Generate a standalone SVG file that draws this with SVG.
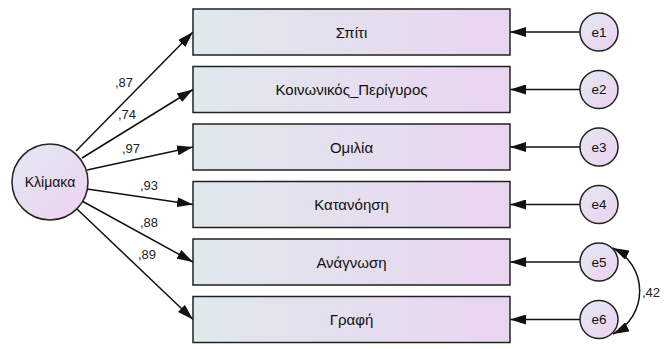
<svg xmlns="http://www.w3.org/2000/svg" width="668" height="349" viewBox="0 0 668 349">
  <defs>
    <linearGradient id="boxFill" x1="0" y1="0" x2="1" y2="0">
      <stop offset="0" stop-color="#dfe9ec"/>
      <stop offset="1" stop-color="#ead4f1"/>
    </linearGradient>
    <linearGradient id="circFill" x1="0.15" y1="0.1" x2="0.85" y2="0.9">
      <stop offset="0" stop-color="#e3e6f2"/>
      <stop offset="1" stop-color="#edd3f1"/>
    </linearGradient>
    <marker id="head" viewBox="0 0 16 10" refX="16" refY="5" markerWidth="16" markerHeight="10" markerUnits="userSpaceOnUse" orient="auto-start-reverse">
      <path d="M0,0 L16,5 L0,10 z" fill="#111"/>
    </marker>
  </defs>
  <style>
    .box { fill: url(#boxFill); stroke: #222; stroke-width: 1.5; }
    .circ { fill: url(#circFill); stroke: #222; stroke-width: 1.5; }
    .lbl { font-family: "Liberation Sans", Arial, sans-serif; font-size: 15px; fill: #111; text-anchor: middle; dominant-baseline: central; }
    .big { font-size: 14px; }
    .err { font-size: 13.5px; }
    .coef { font-family: "Liberation Sans", Arial, sans-serif; font-size: 13px; fill: #222; }
    .link { fill: none; stroke: #111; stroke-width: 1.5; marker-end: url(#head); }
    .cov { fill: none; stroke: #111; stroke-width: 1.5; marker-start: url(#head); marker-end: url(#head); }
  </style>

  <!-- connectors -->
  <g id="connectors">
    <path class="link" d="M76,151 L193,32"/>
    <path class="link" d="M82,158 L193,89.5"/>
    <path class="link" d="M87,170 L193,147"/>
    <path class="link" d="M87,189 L193,204.5"/>
    <path class="link" d="M82,201 L193,262"/>
    <path class="link" d="M77,209 L193,319.5"/>
    <path class="link" d="M580,32 L510,32"/>
    <path class="link" d="M580,89.5 L510,89.5"/>
    <path class="link" d="M580,147 L510,147"/>
    <path class="link" d="M580,204.5 L510,204.5"/>
    <path class="link" d="M580,262 L510,262"/>
    <path class="link" d="M580,319.5 L510,319.5"/>
    <path class="cov" d="M613,248 A48,48 0 0 1 613,334"/>
    <text class="coef" x="115" y="87">,87</text>
    <text class="coef" x="118" y="119">,74</text>
    <text class="coef" x="122" y="153">,97</text>
    <text class="coef" x="140" y="190">,93</text>
    <text class="coef" x="140" y="227">,88</text>
    <text class="coef" x="138" y="259">,89</text>
    <text class="coef" x="642" y="297">,42</text>
  </g>

  <g id="klimaka">
    <circle class="circ" cx="50" cy="182" r="38"/>
    <text class="lbl big" x="50" y="182">Κλίμακα</text>
  </g>

  <g id="spiti">
    <rect class="box" x="193" y="9" width="317" height="46"/>
    <text class="lbl" x="351.5" y="32">Σπίτι</text>
  </g>
  <g id="koinonikos">
    <rect class="box" x="193" y="66.5" width="317" height="46"/>
    <text class="lbl" x="351.5" y="89.5">Κοινωνικός_Περίγυρος</text>
  </g>
  <g id="omilia">
    <rect class="box" x="193" y="124" width="317" height="46"/>
    <text class="lbl" x="351.5" y="147">Ομιλία</text>
  </g>
  <g id="katanoisi">
    <rect class="box" x="193" y="181.5" width="317" height="46"/>
    <text class="lbl" x="351.5" y="204.5">Κατανόηση</text>
  </g>
  <g id="anagnosi">
    <rect class="box" x="193" y="239" width="317" height="46"/>
    <text class="lbl" x="351.5" y="262">Ανάγνωση</text>
  </g>
  <g id="grafi">
    <rect class="box" x="193" y="296.5" width="317" height="46"/>
    <text class="lbl" x="351.5" y="319.5">Γραφή</text>
  </g>

  <g id="e1"><circle class="circ" cx="599" cy="32" r="19"/><text class="lbl err" x="599" y="32">e1</text></g>
  <g id="e2"><circle class="circ" cx="599" cy="89.5" r="19"/><text class="lbl err" x="599" y="89.5">e2</text></g>
  <g id="e3"><circle class="circ" cx="599" cy="147" r="19"/><text class="lbl err" x="599" y="147">e3</text></g>
  <g id="e4"><circle class="circ" cx="599" cy="204.5" r="19"/><text class="lbl err" x="599" y="204.5">e4</text></g>
  <g id="e5"><circle class="circ" cx="599" cy="262" r="19"/><text class="lbl err" x="599" y="262">e5</text></g>
  <g id="e6"><circle class="circ" cx="599" cy="319.5" r="19"/><text class="lbl err" x="599" y="319.5">e6</text></g>
</svg>
